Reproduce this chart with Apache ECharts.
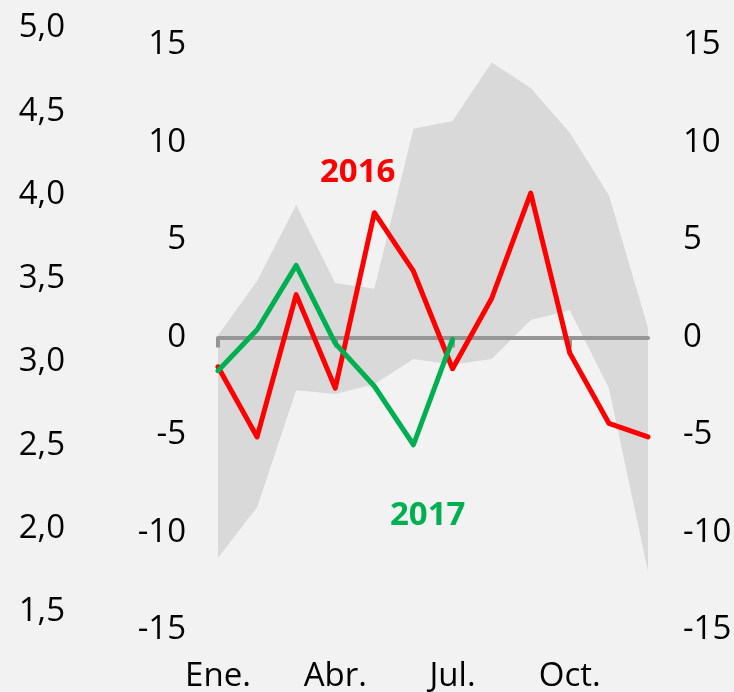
<!DOCTYPE html>
<html>
<head>
<meta charset="utf-8">
<script src="https://cdn.jsdelivr.net/npm/echarts@6/dist/echarts.min.js"></script>
<style>
  html, body { margin: 0; padding: 0; background: #f2f2f2; }
  #chart { width: 734px; height: 692px; }
</style>
</head>
<body>
<div id="chart"></div>
<script>
// meses
const months = ['Ene.', 'Feb.', 'Mar.', 'Abr.', 'May.', 'Jun.', 'Jul.', 'Ago.', 'Sep.', 'Oct.', 'Nov.', 'Dic.'];

// rango historico (banda gris)
const bandLow = [-11.3, -8.7, -2.7, -2.9, -2.4, -1.1, -1.4, -1.1, 0.9, 1.4, -2.6, -12.0];
const bandHigh = [0.1, 2.9, 6.8, 2.8, 2.5, 10.7, 11.1, 14.1, 12.8, 10.5, 7.3, 0.5];

// series
const serie2016 = [-1.5, -5.1, 2.2, -2.6, 6.4, 3.4, -1.6, 2.0, 7.4, -0.8, -4.4, -5.1];
const serie2017 = [-1.7, 0.4, 3.7, -0.3, -2.5, -5.5, -0.1];

// eje izquierdo secundario
const leftAxisMin = 1.5;
const leftAxisMax = 5.0;

const bandDiff = bandHigh.map((v, i) => +(v - bandLow[i]).toFixed(2));

const font = '"Open Sans", "Noto Sans", sans-serif';
const chart = echarts.init(document.getElementById('chart'));

chart.setOption({
  backgroundColor: '#f2f2f2',
  animation: false,
  textStyle: { fontFamily: font },
  grid: [
    { left: 218, right: 86, top: 45, bottom: 62, containLabel: false, outerBoundsMode: 'none' },
    { left: 100, width: 10, top: 28, bottom: 80, containLabel: false, outerBoundsMode: 'none' }
  ],
  xAxis: [
    {
      // etiquetas abajo
      type: 'category',
      data: months,
      boundaryGap: false,
      position: 'bottom',
      axisLine: { show: false, onZero: false },
      axisTick: { show: false },
      axisLabel: {
        interval: 2,
        margin: 37,
        color: '#000',
        fontSize: 33,
        lineHeight: 20,
        fontFamily: font
      },
      splitLine: { show: false }
    },
    {
      // linea del cero con marcas
      type: 'category',
      data: months,
      boundaryGap: false,
      position: 'top',
      z: 5,
      axisLine: { show: true, onZero: true, lineStyle: { color: '#969696', width: 4 } },
      axisTick: { show: true, inside: true, interval: 2, length: 10, lineStyle: { color: '#969696', width: 4 } },
      axisLabel: { show: false },
      splitLine: { show: false }
    },
    {
      gridIndex: 1,
      type: 'category',
      data: [],
      show: false
    }
  ],
  yAxis: [
    {
      type: 'value',
      position: 'left',
      min: -15,
      max: 15,
      interval: 5,
      axisLine: { show: false },
      axisTick: { show: false },
      splitLine: { show: false },
      axisLabel: { margin: 32, color: '#000', fontSize: 33, fontFamily: font }
    },
    {
      type: 'value',
      position: 'right',
      min: -15,
      max: 15,
      interval: 5,
      axisLine: { show: false },
      axisTick: { show: false },
      splitLine: { show: false },
      axisLabel: { margin: 35, color: '#000', fontSize: 33, fontFamily: font }
    },
    {
      gridIndex: 1,
      type: 'value',
      position: 'left',
      min: leftAxisMin,
      max: leftAxisMax,
      interval: 0.5,
      axisLine: { show: false },
      axisTick: { show: false },
      splitLine: { show: false },
      axisLabel: {
        margin: 35,
        color: '#000',
        fontSize: 33,
        fontFamily: font,
        formatter: v => v.toFixed(1).replace('.', ',')
      }
    }
  ],
  series: [
    {
      name: 'min',
      type: 'line',
      data: bandLow,
      stack: 'banda',
      stackStrategy: 'all',
      symbol: 'none',
      lineStyle: { opacity: 0 },
      silent: true,
      z: 1
    },
    {
      name: 'rango',
      type: 'line',
      data: bandDiff,
      stack: 'banda',
      stackStrategy: 'all',
      symbol: 'none',
      lineStyle: { opacity: 0 },
      areaStyle: { color: '#d9d9d9', opacity: 1 },
      silent: true,
      z: 1
    },
    {
      name: '2016',
      type: 'line',
      data: serie2016,
      symbol: 'none',
      lineStyle: { color: '#ff0000', width: 5, cap: 'round', join: 'round' },
      z: 6
    },
    {
      name: '2017',
      type: 'line',
      data: serie2017,
      symbol: 'none',
      lineStyle: { color: '#00b050', width: 5, cap: 'round', join: 'round' },
      z: 7
    }
  ],
  graphic: [
    {
      type: 'text',
      left: 320,
      top: 156,
      z: 100,
      style: { text: '2016', fill: '#ff0000', font: 'bold 33px ' + font }
    },
    {
      type: 'text',
      left: 390,
      top: 499,
      z: 100,
      style: { text: '2017', fill: '#00b050', font: 'bold 33px ' + font }
    }
  ]
});
</script>
</body>
</html>
